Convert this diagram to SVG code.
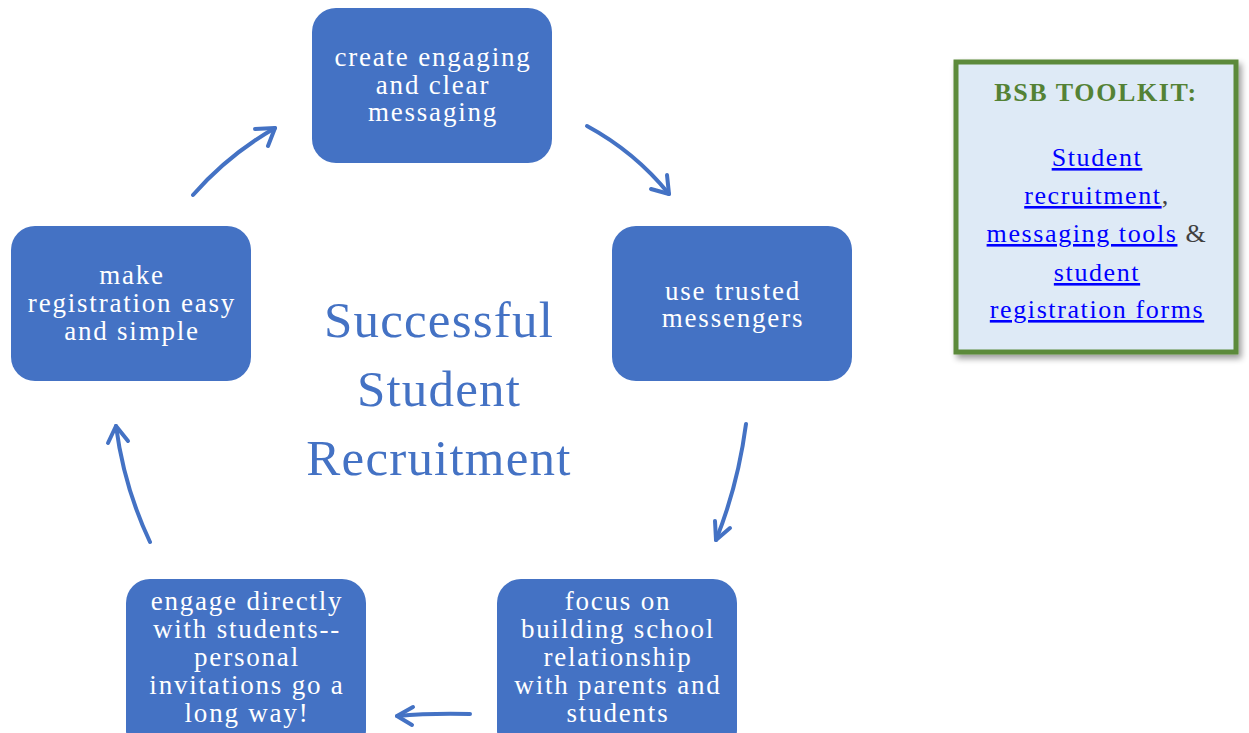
<svg xmlns="http://www.w3.org/2000/svg" width="1249" height="733" viewBox="0 0 1249 733">
<style>
.node rect{fill:#4472C4}
.nt{font-family:"Liberation Serif","DejaVu Serif",serif;font-size:27px;letter-spacing:1.8px;fill:#fff;text-anchor:middle}
.conn path{fill:none;stroke:#4472C4;stroke-width:4;stroke-linecap:round;stroke-linejoin:round}
.center{font-family:"Liberation Serif","DejaVu Serif",serif;font-size:51px;letter-spacing:1.2px;fill:#4472C4;text-anchor:middle}
.tk{font-family:"Liberation Serif","DejaVu Serif",serif;font-size:26px;letter-spacing:1.6px;text-anchor:middle}
.lnk{fill:#0000FF;text-decoration:underline}
</style>
<defs>
<filter id="sh" x="-10%" y="-10%" width="130%" height="130%">
<feGaussianBlur in="SourceAlpha" stdDeviation="3"/>
<feOffset dx="3" dy="4"/>
<feComponentTransfer><feFuncA type="linear" slope="0.4"/></feComponentTransfer>
<feMerge><feMergeNode/><feMergeNode in="SourceGraphic"/></feMerge>
</filter>
</defs>
<rect width="1249" height="733" fill="#fff"/>
<g id="n-top" class="node"><rect x="312" y="8" width="240" height="155" rx="24"/>
<text class="nt" x="433" y="66">create engaging</text><text class="nt" x="433" y="94">and clear</text><text class="nt" x="433" y="121">messaging</text></g>
<g id="n-right" class="node"><rect x="612" y="226" width="240" height="155" rx="24"/>
<text class="nt" x="733" y="300">use trusted</text><text class="nt" x="733" y="327">messengers</text></g>
<g id="n-left" class="node"><rect x="11" y="226" width="240" height="155" rx="24"/>
<text class="nt" x="132" y="284">make</text><text class="nt" x="132" y="312">registration easy</text><text class="nt" x="132" y="340">and simple</text></g>
<g id="n-br" class="node"><rect x="497" y="579" width="240" height="175" rx="24"/>
<text class="nt" x="618" y="610">focus on</text><text class="nt" x="618" y="638">building school</text><text class="nt" x="618" y="666">relationship</text><text class="nt" x="618" y="694">with parents and</text><text class="nt" x="618" y="722">students</text></g>
<g id="n-bl" class="node"><rect x="126" y="579" width="240" height="175" rx="24"/>
<text class="nt" x="247" y="610">engage directly</text><text class="nt" x="247" y="638">with students--</text><text class="nt" x="247" y="666">personal</text><text class="nt" x="247" y="694">invitations go a</text><text class="nt" x="247" y="722">long way!</text></g>
<g id="title"><text class="center" x="439" y="337">Successful</text><text class="center" x="439" y="406">Student</text><text class="center" x="439" y="475">Recruitment</text></g>
<g id="connectors" class="conn">
<path d="M193,195 Q228,155 275,128"/><path d="M275,128 L255,129 M275,128 L268,146"/>
<path d="M587,126 Q635,152 669,194"/><path d="M669,194 L651,189 M669,194 L667,175"/>
<path d="M746,424 Q738,485 716,540"/><path d="M716,540 L715,521 M716,540 L730,528"/>
<path d="M470,714 Q430,713 397,716"/><path d="M397,716 L413,707 M397,716 L412,725"/>
<path d="M150,542 Q124,487 116,426"/><path d="M116,426 L108,443 M116,426 L128,441"/>
</g>
<g id="toolkit">
<rect x="956" y="62" width="280" height="290" fill="#DEEAF6" stroke="#5B8A3A" stroke-width="5" filter="url(#sh)"/>
<text class="tk" x="1096" y="101" fill="#548235" font-weight="bold" font-size="25" letter-spacing="2.4">BSB TOOLKIT:</text>
<text class="tk" x="1097" y="166"><tspan class="lnk">Student</tspan></text>
<text class="tk" x="1097" y="204"><tspan class="lnk">recruitment</tspan><tspan fill="#404040">,</tspan></text>
<text class="tk" x="1097" y="242"><tspan class="lnk">messaging tools</tspan><tspan fill="#404040"> &amp;</tspan></text>
<text class="tk" x="1097" y="281"><tspan class="lnk">student</tspan></text>
<text class="tk" x="1097" y="318"><tspan class="lnk">registration forms</tspan></text>
</g>
</svg>
